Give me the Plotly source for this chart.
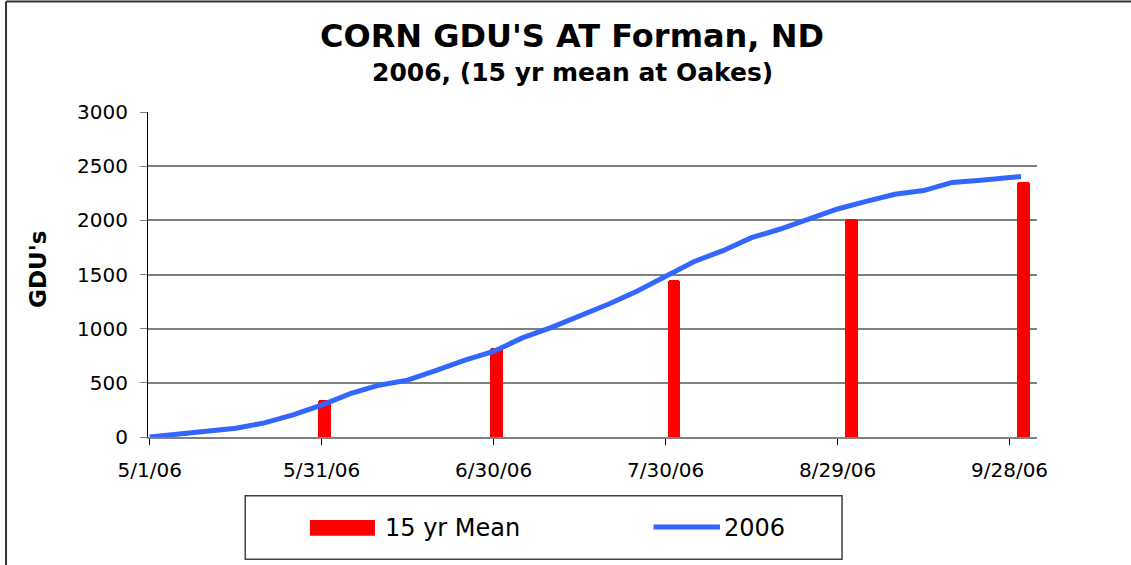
import plotly.graph_objs as go

# cumulative GDUs for 2006 at Forman
dates_2006 = ['2006-05-01', '2006-05-06', '2006-05-11', '2006-05-16', '2006-05-21',
              '2006-05-26', '2006-05-31', '2006-06-05', '2006-06-10', '2006-06-15',
              '2006-06-20', '2006-06-25', '2006-06-30', '2006-07-05', '2006-07-10',
              '2006-07-15', '2006-07-20', '2006-07-25', '2006-07-30', '2006-08-04',
              '2006-08-09', '2006-08-14', '2006-08-19', '2006-08-24', '2006-08-29',
              '2006-09-03', '2006-09-08', '2006-09-13', '2006-09-18', '2006-09-23',
              '2006-09-28', '2006-09-30']
gdu_2006 = [0, 25, 60, 80, 130, 205, 295, 400, 478, 525, 615, 710, 790, 915, 1010,
            1115, 1225, 1345, 1485, 1620, 1720, 1840, 1920, 2015, 2105, 2175, 2240,
            2275, 2350, 2370, 2400, 2405]

# 15 yr mean at Oakes, end of month
mean_dates = ['2006-05-31', '2006-06-30', '2006-07-31', '2006-08-31', '2006-09-30']
mean_gdu = [343, 820, 1450, 2015, 2350]

tick_dates = ['2006-05-01', '2006-05-31', '2006-06-30', '2006-07-30', '2006-08-29', '2006-09-28']
tick_labels = ['5/1/06', '5/31/06', '6/30/06', '7/30/06', '8/29/06', '9/28/06']

DAY = 86400000
FONT = 'DejaVu Sans'

fig = go.Figure()
fig.add_trace(go.Bar(x=mean_dates, y=mean_gdu, name='15 yr Mean',
                     width=2.2 * DAY, offset=-0.65 * DAY,
                     marker=dict(color='#FF0000', line=dict(width=0), cornerradius=3),
                     showlegend=False))
fig.add_trace(go.Scatter(x=dates_2006, y=gdu_2006, name='2006', mode='lines',
                         line=dict(color='#3366FF', width=5), showlegend=False))

# hand made legend box like the excel one
shapes = [
    dict(type='rect', xref='paper', yref='paper', x0=0.1094, x1=0.7807, y0=-0.3763, y1=-0.1806,
         line=dict(color='#404040', width=1.5), fillcolor='white'),
    dict(type='rect', xref='paper', yref='paper', x0=0.1822, x1=0.2553, y0=-0.3037, y1=-0.2554,
         line=dict(width=0), fillcolor='#FF0000'),
    dict(type='line', xref='paper', yref='paper', x0=0.5686, x1=0.6434, y0=-0.277, y1=-0.277,
         line=dict(color='#3366FF', width=5)),
    # outer chart border (left + top)
    dict(type='line', xref='paper', yref='paper', x0=-0.1597, x1=-0.1597, y0=-0.40, y1=1.34,
         line=dict(color='#333333', width=2)),
    dict(type='line', xref='paper', yref='paper', x0=-0.1597, x1=1.11, y0=1.34, y1=1.34,
         line=dict(color='#333333', width=2)),
]

annotations = [
    dict(text="<b>CORN GDU'S AT Forman, ND</b>", xref='paper', yref='paper', x=0.4775, y=1.234,
         showarrow=False, font=dict(family=FONT, size=32, color='black'), xanchor='center', yanchor='middle'),
    dict(text='<b>2006, (15 yr mean at Oakes)</b>', xref='paper', yref='paper', x=0.4775, y=1.12,
         showarrow=False, font=dict(family=FONT, size=25, color='black'), xanchor='center', yanchor='middle'),
    dict(text="<b>GDU's</b>", xref='paper', yref='paper', x=-0.1237, y=0.514, textangle=-90,
         showarrow=False, font=dict(family=FONT, size=23, color='black'), xanchor='center', yanchor='middle'),
    dict(text='15 yr Mean', xref='paper', yref='paper', x=0.2643, y=-0.28,
         showarrow=False, font=dict(family=FONT, size=24, color='black'), xanchor='left', yanchor='middle'),
    dict(text='2006', xref='paper', yref='paper', x=0.6457, y=-0.28,
         showarrow=False, font=dict(family=FONT, size=24, color='black'), xanchor='left', yanchor='middle'),
]

fig.update_layout(
    width=1131, height=565,
    margin=dict(l=148, r=94, t=112, b=128),
    paper_bgcolor='white', plot_bgcolor='white',
    font=dict(family=FONT, size=20, color='black'),
    shapes=shapes, annotations=annotations,
    bargap=0,
    xaxis=dict(type='date', range=['2006-04-30 17:00', '2006-10-02 19:00'],
               tickvals=tick_dates, ticktext=tick_labels,
               showgrid=False, showline=True, linecolor='#808080', linewidth=1.5,
               ticks='outside', ticklen=6, tickcolor='black', ticklabelstandoff=8,
               tickfont=dict(family=FONT, size=20), zeroline=False),
    yaxis=dict(range=[0, 3000], dtick=500, tick0=0,
               showgrid=True, gridcolor='#808080', gridwidth=1.5,
               showline=True, linecolor='black', linewidth=1,
               ticks='outside', ticklen=7, tickcolor='#808080', ticklabelstandoff=8,
               tickfont=dict(family=FONT, size=20), zeroline=False),
)

# page has a default 8px body margin, drop it so the chart sits at 0,0
fig.write_html('out.html', config={'displayModeBar': False},
               post_script="document.body.style.margin='0px';")
